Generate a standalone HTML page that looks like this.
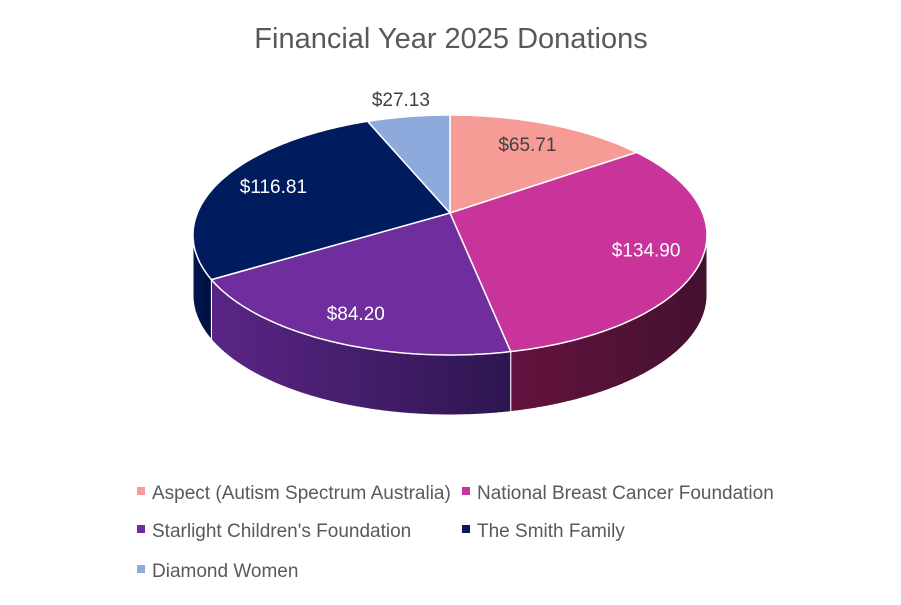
<!DOCTYPE html>
<html><head><meta charset="utf-8"><style>
body{margin:0;background:#fff;}
svg text{font-family:"Liberation Sans",sans-serif;}
</style></head><body>
<svg width="901" height="600" viewBox="0 0 901 600">
<defs>
<linearGradient id="gPink" x1="0" x2="1"><stop offset="0" stop-color="#64123f"/><stop offset="1" stop-color="#44112f"/></linearGradient>
<linearGradient id="gPurple" x1="0" x2="1"><stop offset="0" stop-color="#5a2586"/><stop offset="1" stop-color="#2e1650"/></linearGradient>
<linearGradient id="gNavy" x1="0" x2="1"><stop offset="0" stop-color="#00174e"/><stop offset="1" stop-color="#001040"/></linearGradient>
<linearGradient id="gAspect" x1="0" x2="1"><stop offset="0" stop-color="#a06060"/><stop offset="1" stop-color="#804848"/></linearGradient>
<linearGradient id="gDiamond" x1="0" x2="1"><stop offset="0" stop-color="#5a6e90"/><stop offset="1" stop-color="#4a5a78"/></linearGradient>
</defs>
<text x="451" y="48" text-anchor="middle" font-size="29" fill="#595959">Financial Year 2025 Donations</text>
<g id="pie"></g>
<g id="legend"></g>
</svg>
<script>
const categories = ["Aspect (Autism Spectrum Australia)","National Breast Cancer Foundation","Starlight Children's Foundation","The Smith Family","Diamond Women"];
const values = [65.71,134.90,84.20,116.81,27.13];
const labels = ["$65.71","$134.90","$84.20","$116.81","$27.13"];
const colors = ["#F79B97","#C9349A","#6F2D9E","#001C5E","#8EA9DB"];
const sides = ["url(#gAspect)","url(#gPink)","url(#gPurple)","url(#gNavy)","url(#gDiamond)"];
const labelColors = ["#404040","#fff","#fff","#fff","#404040"];
const NS="http://www.w3.org/2000/svg";
const cx=450, cy=235, rx=257, ry=120, ax=450, ay=213, depth=60, k=120;
const pie=document.getElementById('pie');
const total=values.reduce((a,b)=>a+b,0);
function pt(t){
  const dx=rx*Math.sin(t), dy=-k*Math.cos(t);
  const ox=(ax-cx)/rx, oy=(ay-cy)/ry, ux=dx/rx, uy=dy/ry;
  const A=ux*ux+uy*uy, B=2*(ox*ux+oy*uy), C=ox*ox+oy*oy-1;
  const s=(-B+Math.sqrt(B*B-4*A*C))/(2*A);
  return [ax+s*dx, ay+s*dy];
}
function arc(a,b,steps){let s=[];for(let i=0;i<=steps;i++){s.push(pt(a+(b-a)*i/steps));}return s;}
function d(pts){return pts.map(q=>q[0].toFixed(1)+','+q[1].toFixed(1)).join('L');}
let cum=0; const angs=[];
values.forEach(v=>{const a=cum/total*2*Math.PI; cum+=v; angs.push([a,cum/total*2*Math.PI]);});
// sides
angs.forEach(([a,b],i)=>{
  const pts=arc(a,b,300).filter(q=>q[1]>=cy);
  if(pts.length<2) return;
  const bot=pts.map(q=>[q[0],q[1]+depth]).reverse();
  const p=document.createElementNS(NS,'path');
  p.setAttribute('d','M'+d(pts.concat(bot))+'Z');
  p.setAttribute('fill',sides[i]);p.setAttribute('stroke','#fff');p.setAttribute('stroke-width','1');
  
  
  pie.appendChild(p);
});
// tops
angs.forEach(([a,b],i)=>{
  const pts=arc(a,b,120);
  const p=document.createElementNS(NS,'path');
  p.setAttribute('d','M'+ax+','+ay+'L'+d(pts)+'Z');
  p.setAttribute('fill',colors[i]);p.setAttribute('stroke','#fff');p.setAttribute('stroke-width','1.5');
  
  
  pie.appendChild(p);
});
// labels
angs.forEach(([a,b],i)=>{
  const m=(a+b)/2, frac=values[i]/total;
  const e=pt(m);
  const r=frac<0.08?1.18:0.78;
  const x=ax+(e[0]-ax)*r, y=ay+(e[1]-ay)*r;
  const t=document.createElementNS(NS,'text');
  t.setAttribute('x',x.toFixed(1));t.setAttribute('y',(y+7).toFixed(1));
  t.setAttribute('text-anchor','middle');t.setAttribute('font-size','19');
  t.setAttribute('fill',labelColors[i]);
  
  
  t.textContent=labels[i];
  pie.appendChild(t);
});
// legend
const leg=document.getElementById('legend');
const lpos=[[137,492],[462,492],[137,530],[462,530],[137,570]];
categories.forEach((c,i)=>{
  const [x,y]=lpos[i];
  const g=document.createElementNS(NS,'g');
  
  
  const r=document.createElementNS(NS,'rect');
  r.setAttribute('x',x);r.setAttribute('y',y-5);r.setAttribute('width',8);r.setAttribute('height',8);r.setAttribute('fill',colors[i]);
  
  
  const t=document.createElementNS(NS,'text');
  t.setAttribute('x',x+15);t.setAttribute('y',y+7);t.setAttribute('font-size','19');t.setAttribute('fill','#595959');
  
  
  t.textContent=c;
  g.appendChild(r);g.appendChild(t);leg.appendChild(g);
});
</script>
</body></html>
